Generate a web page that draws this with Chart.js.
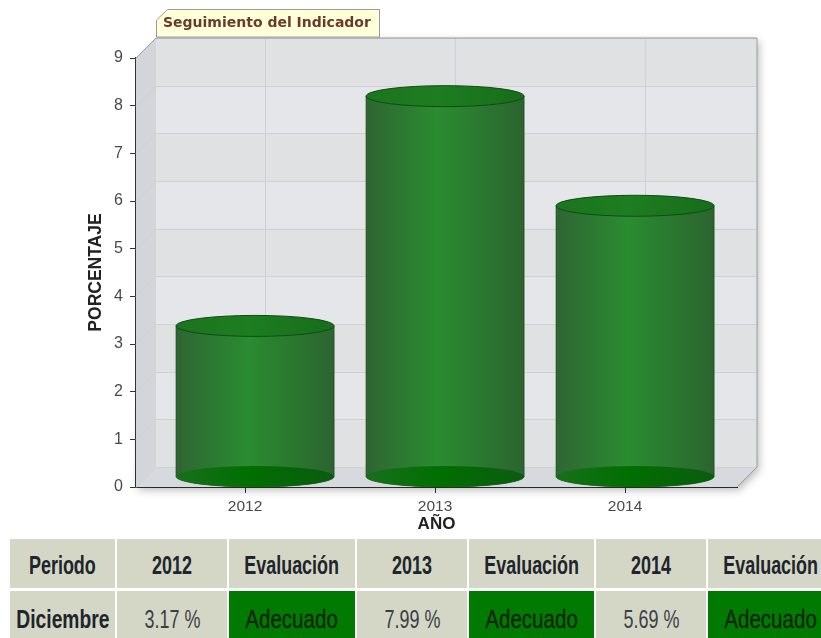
<!DOCTYPE html>
<html>
<head>
<meta charset="utf-8">
<style>
	html, body { margin: 0; padding: 0; background: #fff; overflow: hidden; }
	#wrap { position: absolute; left: 0; top: 0; width: 821px; height: 535px; }
	#tabla { position: absolute; left: 10px; top: 539px; border-collapse: separate; border-spacing: 2.5px 3px; margin: -3px 0 0 -2px; table-layout: fixed; }
	#tabla td { background: #d4d7c5; color: #20242c; text-align: center; padding: 0; height: 49px; font: 26px "Liberation Sans", sans-serif; overflow: hidden; white-space: nowrap; }
	#tabla td span { display: inline-block; position: relative; top: 2px; transform: scaleX(0.69); margin: 0 -40px; }
	#tabla tr:first-child td, #tabla td.first { font-weight: bold; }
	#tabla tr + tr td span { top: 4px; }
	#tabla td.first span { transform: scaleX(0.74); }
	#tabla td.verde { background: #007a00; color: #10260c; }
	#tabla td.verde span { transform: scaleX(0.79); -webkit-text-stroke: 0.3px #10260c; }
	#tabla td.valor { color: #3a3f48; }
</style>
</head>
<body>
<div id="wrap"><canvas id="grafico" width="821" height="535"></canvas></div>
<table id="tabla"></table>
<script src="https://cdn.jsdelivr.net/npm/chart.js@4/dist/chart.umd.min.js"></script>
<script>
var years = [2012, 2013, 2014];
var values = [3.17, 7.99, 5.69];
var yTicks = [0, 1, 2, 3, 4, 5, 6, 7, 8, 9];
var chartTitle = 'Seguimiento del Indicador';
var periodo = 'Diciembre';
var evaluaciones = ['Adecuado', 'Adecuado', 'Adecuado'];

var DEPTH = 20;

function cylinderGradient(ctx, left, right, edge, middle, edge2) {
	var g = ctx.createLinearGradient(left, 0, right, 0);
	g.addColorStop(0, edge);
	g.addColorStop(0.45, middle);
	g.addColorStop(1, edge2);
	return g;
}

var wallsPlugin = {
	id: 'walls',
	beforeDatasetsDraw: function (chart) {
		var ctx = chart.ctx, x = chart.scales.x, y = chart.scales.y;
		var l = x.left, r = x.right, t = y.top, b = y.bottom;
		ctx.save();

		// shadow round the box
		ctx.save();
		ctx.shadowColor = 'rgba(0,0,0,0.28)';
		ctx.shadowBlur = 9;
		ctx.shadowOffsetX = 2;
		ctx.shadowOffsetY = 3;
		ctx.fillStyle = '#e0e1e4';
		ctx.beginPath();
		ctx.moveTo(l + DEPTH, t - DEPTH);
		ctx.lineTo(r + DEPTH, t - DEPTH);
		ctx.lineTo(r + DEPTH, b - DEPTH);
		ctx.lineTo(r, b);
		ctx.lineTo(l, b);
		ctx.closePath();
		ctx.fill();
		ctx.restore();

		// back wall, bands between ticks
		for (var i = 0; i < yTicks.length - 1; i++) {
			var y0 = y.getPixelForValue(yTicks[i]) - DEPTH;
			var y1 = y.getPixelForValue(yTicks[i + 1]) - DEPTH;
			ctx.fillStyle = i % 2 ? '#e4e6ea' : '#e0e1e3';
			ctx.fillRect(l + DEPTH, y1, r - l, y0 - y1);
		}

		// left wall and floor
		ctx.fillStyle = '#d2d5da';
		ctx.beginPath();
		ctx.moveTo(l, t);
		ctx.lineTo(l + DEPTH, t - DEPTH);
		ctx.lineTo(l + DEPTH, b - DEPTH);
		ctx.lineTo(l, b);
		ctx.closePath();
		ctx.fill();
		ctx.fillStyle = '#d6d9de';
		ctx.beginPath();
		ctx.moveTo(l, b);
		ctx.lineTo(l + DEPTH, b - DEPTH);
		ctx.lineTo(r + DEPTH, b - DEPTH);
		ctx.lineTo(r, b);
		ctx.closePath();
		ctx.fill();

		// grid on the walls
		ctx.lineWidth = 1;
		ctx.strokeStyle = '#cfd0d3';
		yTicks.forEach(function (v) {
			var py = Math.round(y.getPixelForValue(v)) + 0.5;
			ctx.beginPath();
			ctx.moveTo(l, py);
			ctx.lineTo(l + DEPTH, py - DEPTH);
			ctx.lineTo(r + DEPTH, py - DEPTH);
			ctx.stroke();
		});
		years.forEach(function (v) {
			var px = Math.round(x.getPixelForValue(v)) + 0.5;
			ctx.beginPath();
			ctx.moveTo(px, b);
			ctx.lineTo(px + DEPTH, b - DEPTH);
			ctx.lineTo(px + DEPTH, t - DEPTH);
			ctx.stroke();
		});

		// box outline
		ctx.strokeStyle = '#9c9c9c';
		ctx.beginPath();
		ctx.moveTo(l, t);
		ctx.lineTo(l + DEPTH, t - DEPTH);
		ctx.lineTo(r + DEPTH, t - DEPTH);
		ctx.lineTo(r + DEPTH, b - DEPTH);
		ctx.lineTo(r, b);
		ctx.stroke();

		// tab with the chart title
		var tabR = l + 243, tabT = t - 49, tabB = t - 21;
		ctx.fillStyle = '#ffffd9';
		ctx.strokeStyle = '#9a9a9a';
		ctx.beginPath();
		ctx.moveTo(l + DEPTH + 0.5, tabB);
		ctx.lineTo(l + DEPTH + 0.5, tabT + 11);
		ctx.lineTo(l + DEPTH + 11.5, tabT + 0.5);
		ctx.lineTo(tabR + 0.5, tabT + 0.5);
		ctx.lineTo(tabR + 0.5, tabB);
		ctx.closePath();
		ctx.fill();
		ctx.stroke();
		ctx.fillStyle = '#6a3b2b';
		ctx.font = 'bold 14px "DejaVu Sans", Verdana, sans-serif';
		ctx.textAlign = 'left';
		ctx.textBaseline = 'alphabetic';
		ctx.fillText(chartTitle, l + 27, tabT + 18);
		ctx.restore();
	},
	afterDatasetsDraw: function (chart) {
		var ctx = chart.ctx;
		chart.getDatasetMeta(0).data.forEach(function (bar) {
			var cx = bar.x + DEPTH / 2;
			var rx = bar.width / 2;
			var ry = 10.5;
			var topY = bar.y - DEPTH / 2;
			var baseY = bar.base - DEPTH / 2;
			var left = cx - rx, right = cx + rx;

			ctx.save();
			// body
			ctx.fillStyle = cylinderGradient(ctx, left, right, '#2f6533', '#2a8c30', '#2c6430');
			ctx.beginPath();
			ctx.moveTo(left, topY);
			ctx.lineTo(left, baseY);
			ctx.ellipse(cx, baseY, rx, ry, 0, Math.PI, 0, true);
			ctx.lineTo(right, topY);
			ctx.closePath();
			ctx.fill();
			ctx.strokeStyle = 'rgba(20,70,20,0.7)';
			ctx.lineWidth = 1;
			ctx.stroke();

			// bottom ellipse
			ctx.fillStyle = cylinderGradient(ctx, left, right, '#17701c', '#016f01', '#0a5c0e');
			ctx.beginPath();
			ctx.ellipse(cx, baseY, rx, ry, 0, 0, Math.PI * 2);
			ctx.fill();

			// top ellipse
			ctx.fillStyle = cylinderGradient(ctx, left, right, '#1c741f', '#1d7d20', '#186d1b');
			ctx.strokeStyle = '#0f4c12';
			ctx.beginPath();
			ctx.ellipse(cx, topY, rx, ry, 0, 0, Math.PI * 2);
			ctx.fill();
			ctx.stroke();
			ctx.restore();
		});
	}
};

new Chart(document.getElementById('grafico'), {
	type: 'bar',
	data: {
		datasets: [{
			data: years.map(function (year, i) {
				return { x: year, y: values[i] };
			}),
			backgroundColor: 'rgba(0,0,0,0)',
			barThickness: 158
		}]
	},
	options: {
		responsive: false,
		animation: false,
		layout: { padding: { left: 86, right: 84, top: 58, bottom: 0 } },
		plugins: { legend: { display: false }, tooltip: { enabled: false } },
		scales: {
			x: {
				type: 'linear',
				offset: false,
				min: 2011.426,
				max: 2014.589,
				afterFit: function (scale) { scale.height = 48; },
				afterBuildTicks: function (scale) {
					scale.ticks = years.map(function (v) { return { value: v }; });
				},
				grid: { offset: false, drawOnChartArea: false, tickLength: 6, color: '#333' },
				border: { color: '#333', width: 2 },
				ticks: {
					color: '#4a4a4a',
					font: { family: '"Liberation Sans", Arial, sans-serif', size: 15.5 },
					padding: 4,
					autoSkip: false,
					maxRotation: 0,
					callback: function (v) { return String(v); }
				},
				title: {
					display: true,
					text: 'AÑO',
					color: '#222',
					font: { family: '"Liberation Sans", Arial, sans-serif', size: 17, weight: 'bold' },
					padding: { top: 0, bottom: 0 }
				}
			},
			y: {
				min: 0,
				max: 9,
				afterFit: function (scale) { scale.width = 50; },
				grid: { drawOnChartArea: false, tickLength: 6, color: '#333' },
				border: { color: '#333', width: 2 },
				ticks: {
					stepSize: 1,
					color: '#4a4a4a',
					font: { family: '"Liberation Sans", Arial, sans-serif', size: 16 },
					padding: 7
				},
				title: {
					display: true,
					text: 'PORCENTAJE',
					color: '#222',
					font: { family: '"Liberation Sans", Arial, sans-serif', size: 17.5, weight: 'bold' },
					padding: 0
				}
			}
		}
	},
	plugins: [wallsPlugin]
});

// table under the chart
var colWidths = [105, 110, 126, 110, 125, 110, 125];
var tabla = document.getElementById('tabla');
var head = document.createElement('tr');
var row = document.createElement('tr');

function addCell(tr, text, cls, w) {
	var td = document.createElement('td');
	var span = document.createElement('span');
	span.textContent = text;
	td.appendChild(span);
	td.style.width = w + 'px';
	td.style.minWidth = w + 'px';
	td.style.maxWidth = w + 'px';
	if (cls) { td.className = cls; }
	tr.appendChild(td);
}

addCell(head, 'Periodo', '', colWidths[0]);
addCell(row, periodo, 'first', colWidths[0]);
years.forEach(function (year, i) {
	addCell(head, String(year), '', colWidths[1 + i * 2]);
	addCell(head, 'Evaluación', '', colWidths[2 + i * 2]);
	addCell(row, values[i] + ' %', 'valor', colWidths[1 + i * 2]);
	addCell(row, evaluaciones[i], 'verde', colWidths[2 + i * 2]);
});
tabla.appendChild(head);
tabla.appendChild(row);
</script>
</body>
</html>
